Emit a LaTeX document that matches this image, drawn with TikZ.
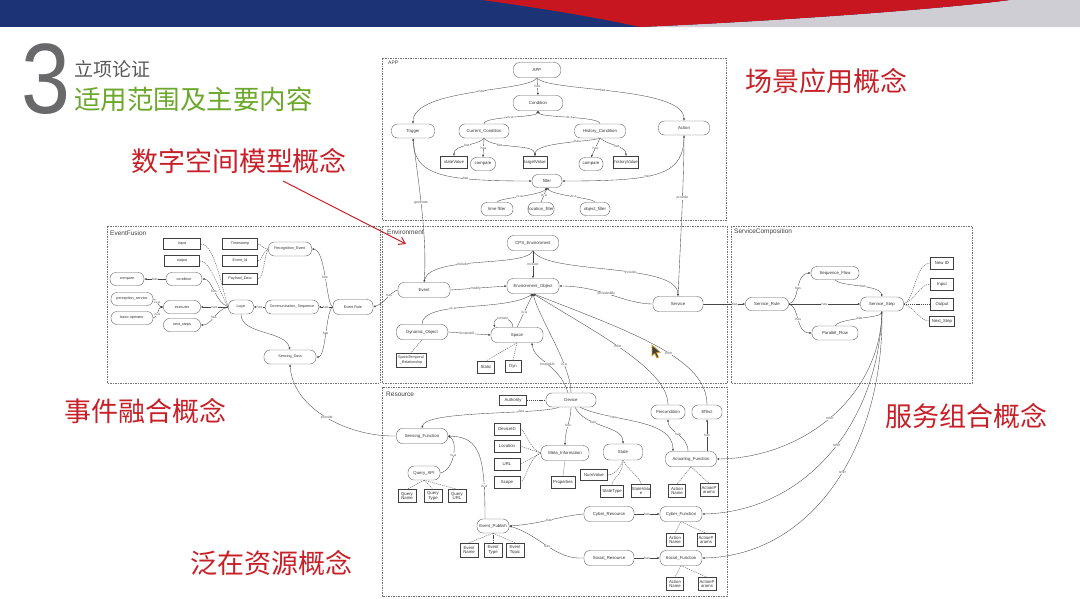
\documentclass[tikz,border=0pt]{standalone}
\usepackage{fontspec}
\setmainfont{Liberation Sans}
\newfontfamily\cjk{Noto Sans CJK SC}
\usetikzlibrary{arrows.meta}
\pgfdeclarelayer{bg}
\pgfdeclarelayer{paper}
\pgfsetlayers{paper,bg,main}
\definecolor{hblue}{RGB}{28,52,118}
\definecolor{hred}{RGB}{200,22,32}
\definecolor{hgrey}{RGB}{206,206,212}
\definecolor{tred}{RGB}{200,32,40}
\definecolor{tgreen}{RGB}{108,168,44}
\definecolor{tgrey}{RGB}{105,105,108}
\definecolor{ndc}{RGB}{95,95,95}
\definecolor{edc}{RGB}{70,70,70}
\definecolor{curs}{RGB}{225,160,40}
\newcommand\nodefont{\fontsize{4.3}{4.8}\selectfont}
\newcommand\nodefontsm{\fontsize{3.7}{4.2}\selectfont}
\newcommand\labfont{\fontsize{3.5}{3.8}\selectfont}
\tikzset{
 rn/.style={draw=ndc, line width=0.4pt, rounded corners=6pt, minimum width=#1, minimum height=14pt, inner sep=0.4pt, font=\nodefont, fill=white, text=black!80},
 rb/.style={draw=black!75, line width=0.5pt, minimum width=#1, minimum height=11.5pt, inner sep=0.4pt, font=\nodefont, align=center, fill=white, text=black!80},
 ed/.style={draw=edc, line width=0.35pt, -{Latex[length=2.4pt,width=2pt]}},
 dsh/.style={draw=edc, line width=0.35pt, dash pattern=on 1.2pt off 0.9pt},
 lab/.style={font=\labfont, fill=white, inner sep=0.2pt, text=black!65},
 frame/.style={draw=black!55, line width=0.45pt, dash pattern=on 1.5pt off 1pt},
 flab/.style={font=\fontsize{6.5}{7}\selectfont, anchor=west, text=black!75, inner sep=0},
 rlab/.style={font=\cjk\fontsize{27}{30}\selectfont, text=tred, inner sep=0},
}
\begin{document}
\begin{tikzpicture}[x=1pt,y=-1pt]
\useasboundingbox (0,0) rectangle (1080,598);
\begin{pgfonlayer}{paper}
\fill[white] (0,0) rectangle (1080,598);
\end{pgfonlayer}
% header band
\fill[hblue] (0,0) rectangle (1080,27);
\fill[hgrey] (640,27) .. controls (800,20) and (950,8) .. (1010,0) -- (1080,0) -- (1080,27) -- cycle;
\fill[hred] (482,0) -- (1010,0) .. controls (950,8) and (800,20) .. (640,27) .. controls (600,18) and (540,8) .. (482,0) -- cycle;
% title
\node[font=\fontsize{100}{100}\selectfont, text=tgrey, inner sep=0, xscale=0.88] (three) at (46,79) {3};
\node[font=\cjk\fontsize{19}{20}\selectfont, text=black!65, anchor=west, inner sep=0] (t1) at (74,69) {立项论证};
\node[font=\cjk\fontsize{26.5}{28}\selectfont, text=tgreen, anchor=west, inner sep=0] (t2) at (74,99) {适用范围及主要内容};
% red labels
\node[rlab] (l1) at (826,81) {场景应用概念};
\node[rlab] (l2) at (239,161) {数字空间模型概念};
\node[rlab] (l3) at (145,411) {事件融合概念};
\node[rlab] (l4) at (966,416) {服务组合概念};
\node[rlab] (l5) at (271,563) {泛在资源概念};

% frame labels
\node[flab, font=\fontsize{5}{6}\selectfont] (fapp) at (388,63) {APP};
\node[flab] (fef) at (110,233) {EventFusion};
\node[flab] (fenv) at (387,232) {Environment};
\node[flab] (fsc) at (734,232) {ServiceComposition};
\node[flab] (fres) at (386,394) {Resource};

% ---------- APP nodes
\node[rn=47,minimum height=15pt] (app) at (537,70) {APP};
\node[rn=49,minimum height=15pt] (cond) at (538,103) {Condition};
\node[rn=43] (trig) at (413,131) {Trigger};
\node[rn=50] (curc) at (484,131) {Current\_Condition};
\node[rn=51] (hisc) at (600,131) {History\_Condition};
\node[rn=51] (act) at (684,128) {Action};
\node[rb=27] (sv) at (454,162) {stateValue};
\node[rn=25,minimum height=13pt] (cmpa) at (483,164) {compare};
\node[rb=24] (tv) at (535,162) {targetValue};
\node[rn=24,minimum height=13pt] (cmpb) at (591,164) {compare};
\node[rb=25] (hv) at (626,162) {historyValue};
\node[rn=30,minimum height=13pt] (filt) at (547,181) {filter};
\node[rn=32,minimum height=13pt] (tf) at (497,209) {time filter};
\node[rn=26,minimum height=13pt] (lf) at (541,209) {location\_filter};
\node[rn=30,minimum height=13pt] (objf) at (595,209) {object\_filter};

% ---------- Environment nodes
\node[rn=51,minimum height=15pt] (cps) at (533,243) {CPS\_Environment};
\node[rn=52,minimum height=15pt] (eo) at (533,286) {Environment\_Object};
\node[rn=52,minimum height=15pt] (ev) at (424,290) {Event};
\node[rn=50,minimum height=15pt] (srv) at (678,304) {Service};
\node[rn=51,minimum height=15pt] (dyn) at (422,332) {Dynamic\_Object};
\node[rn=52,minimum height=15pt] (sp) at (517,335) {Space};
\node[rb=30,minimum height=14pt,font=\nodefontsm] (str) at (411,360) {SpatioTemporal\\\_Relationship};
\node[rb=17] (st) at (486,367) {Static};
\node[rb=16] (dy) at (513,366) {Dyn};

% ---------- EventFusion nodes
\node[rb=37,minimum height=11pt,font=\nodefontsm] (inp) at (182,244) {Input};
\node[rb=35,minimum height=11pt,font=\nodefontsm] (outp) at (182,261) {output};
\node[rn=36,minimum height=13pt,font=\nodefontsm] (cnd) at (184,279) {condition};
\node[rn=34,minimum height=13pt,font=\nodefontsm] (cmpc) at (127,279) {compare};
\node[rn=42,minimum height=13pt,font=\nodefontsm] (ps) at (132,299) {perception\_service};
\node[rn=42,minimum height=13pt,font=\nodefontsm] (bo) at (132,318) {basic operator};
\node[rn=37,minimum height=13pt,font=\nodefontsm] (exe) at (182,307) {executor};
\node[rn=37,minimum height=13pt,font=\nodefontsm] (ns) at (182,325) {next\_steps};
\node[rn=25,minimum height=14pt,font=\nodefontsm] (logic) at (241,307) {Logic};
\node[rn=53,minimum height=14pt,font=\nodefontsm] (cs) at (292,307) {Communication\_Sequence};
\node[rn=40,minimum height=15pt,font=\nodefontsm] (er) at (353,307) {Event Rule};
\node[rb=35,minimum height=11pt,font=\nodefontsm] (ts) at (240,244) {Timestamp};
\node[rb=35,minimum height=11pt,font=\nodefontsm] (eid) at (240,261) {Event\_Id};
\node[rb=35,minimum height=11pt,font=\nodefontsm] (pd) at (240,279) {Payload\_Data};
\node[rn=43,minimum height=14pt,font=\nodefontsm] (re) at (290,249) {Recognition\_Event};
\node[rn=52,minimum height=14pt,font=\nodefontsm] (sd) at (290,357) {Sensing\_Data};

% ---------- ServiceComposition nodes
\node[rn=43,minimum height=13pt] (sr) at (767,304) {Service\_Rule};
\node[rn=48,minimum height=13pt] (sqf) at (835,273) {Sequence\_Flow};
\node[rn=46,minimum height=14pt] (pf) at (835,333) {Parallel\_Flow};
\node[rn=43,minimum height=14pt] (ss) at (882,304) {Service\_Step};
\node[rb=23] (nid) at (942,263) {New ID};
\node[rb=23] (sin) at (942,284) {Input};
\node[rb=23] (sout) at (942,304) {Output};
\node[rb=25,minimum height=10.5pt] (nxt) at (942,321) {Next\_Step};

% ---------- Resource nodes
\node[rb=27,minimum height=10pt] (auth) at (513,400) {Authority};
\node[rn=50,minimum height=14pt] (dev) at (571,400) {Device};
\node[rn=51,minimum height=15pt] (sf) at (422,436) {Sensing\_Function};
\node[rb=26] (did) at (507,429) {DeviceID};
\node[rb=26] (loc) at (507,446) {Location};
\node[rb=26] (url) at (507,464) {URL};
\node[rb=26] (scp) at (507,482) {Scope};
\node[rn=48,minimum height=15pt] (mi) at (565,453) {Meta\_Information};
\node[rb=24] (prop) at (563,482) {Properties};
\node[rn=32,minimum height=14pt] (qa) at (424,473) {Query\_API};
\node[rb=18,minimum height=13pt] (qn) at (407,496) {Query\\Name};
\node[rb=18,minimum height=13pt] (qt) at (433,496) {Query\\Type};
\node[rb=18,minimum height=13pt] (qu) at (457,496) {Query\\URL};
\node[rn=32,minimum height=14pt] (ep) at (493,526) {Event\_Publish};
\node[rb=18,minimum height=14pt] (en) at (469,550) {Event\\Name};
\node[rb=18,minimum height=14pt] (et) at (493,550) {Event\\Type};
\node[rb=18,minimum height=14pt] (etp) at (515,550) {Event\\Topic};
\node[rn=39,minimum height=16pt] (state) at (623,452) {State};
\node[rn=34,minimum height=14pt] (pre) at (668,412) {Precondition};
\node[rn=30,minimum height=14pt] (eff) at (707,412) {Effect};
\node[rn=51,minimum height=15pt] (af) at (691,459) {Actuating\_Function};
\node[rb=27,minimum height=11pt] (nv) at (594,475) {NumValue};
\node[rb=23] (stt) at (612,491) {StateType};
\node[rb=15,minimum height=13pt] (stv) at (641,491) {StateValu\\e};
\node[rb=17,minimum height=13pt] (ana) at (677,491) {Action\\Name};
\node[rb=18,minimum height=13pt] (apa) at (709,490) {ActionP\\arams};
\node[rn=50,minimum height=15pt] (cr) at (609,514) {Cyber\_Resource};
\node[rn=42,minimum height=15pt] (cf) at (681,514) {Cyber\_Function};
\node[rb=17,minimum height=13pt] (anb) at (675,540) {Action\\Name};
\node[rb=18,minimum height=13pt] (apb) at (706,540) {ActionP\\arams};
\node[rn=50,minimum height=15pt] (sor) at (609,558) {Social\_Resource};
\node[rn=42,minimum height=15pt] (sfn) at (681,558) {Social\_Function};
\node[rb=17,minimum height=13pt] (anc) at (675,584) {Action\\Name};
\node[rb=18,minimum height=13pt] (apc) at (707,584) {ActionP\\arams};

\begin{pgfonlayer}{bg}
% frames
\draw[frame] (382,58) rectangle (726,220);
\draw[frame] (107,226) rectangle (380,383);
\draw[frame] (382,226) rectangle (727,383);
\draw[frame] (731,226) rectangle (972,383);
\draw[frame] (382,387) rectangle (727,596);

% ---------- APP edges
\draw[ed] (app.south) -- (cond.north) node[lab,pos=.5]{has};
\draw[ed] (app.south) .. controls (530,92) and (413,88) .. (trig.north) node[lab,pos=.45]{has};
\draw[ed] (app.south) .. controls (545,92) and (684,86) .. (act.north) node[lab,pos=.45]{has};
\draw[ed] (curc.north) .. controls (484,116) and (536,118) .. (cond.south) node[lab,pos=.5]{is-a};
\draw[ed] (hisc.north) .. controls (600,116) and (540,118) .. (cond.south) node[lab,pos=.5]{is-a};
\draw[ed] (curc.south) .. controls (478,146) and (454,144) .. (sv.north) node[lab,pos=.5]{has};
\draw[ed] (curc.south) -- (cmpa.north) node[lab,pos=.5]{has};
\draw[ed] (curc.south) .. controls (495,150) and (535,143) .. (tv.north) node[lab,pos=.3]{has};
\draw[ed] (hisc.south) .. controls (590,142) and (535,142) .. (tv.north) node[lab,pos=.35]{has};
\draw[ed] (hisc.south) -- (cmpb.north) node[lab,pos=.5]{has};
\draw[ed] (hisc.south) .. controls (610,146) and (626,146) .. (hv.north) node[lab,pos=.5]{has};
\draw[ed] (trig.south) .. controls (413,175) and (440,181) .. (filt.west) node[lab,pos=.7]{has};
\draw[ed] (act.south) .. controls (684,175) and (660,181) .. (filt.east) node[lab,pos=.6]{has};
\draw[ed] (tf.north) .. controls (497,198) and (540,196) .. (filt.south) node[lab,pos=.5]{is-a};
\draw[ed] (lf.north) -- (filt.south) node[lab,pos=.5]{is-a};
\draw[ed] (objf.north) .. controls (595,198) and (554,196) .. (filt.south) node[lab,pos=.5]{is-a};
\draw[ed] (ev.north) .. controls (428,240) and (418,180) .. (trig.south) node[lab,pos=.55]{generate};
\draw[ed] (srv.north) .. controls (680,250) and (684,180) .. (act.south) node[lab,pos=.6]{provide};

% ---------- Environment edges
\draw[ed] (cps.south) -- (eo.north) node[lab,pos=.5]{include};
\draw[ed] (cps.south) .. controls (525,268) and (430,255) .. (ev.north) node[lab,pos=.6]{include};
\draw[ed] (cps.south) .. controls (545,275) and (678,262) .. (srv.north) node[lab,pos=.6]{include};
\draw[ed] (ev.east) -- (eo.west) node[lab,pos=.45]{modify};
\draw[ed] (srv.west) .. controls (625,304) and (600,286) .. (eo.east) node[lab,pos=.55]{providedBy};
\draw[ed] (dyn.north) .. controls (422,300) and (505,312) .. (eo.south) node[lab,pos=.4]{is-a};
\draw[ed] (sp.north) -- (eo.south) node[lab,pos=.45]{is-a};
\draw[ed] ([xshift=-4pt]sp.north) .. controls ([xshift=-4pt,yshift=12pt]sp.north) and ([xshift=-26pt,yshift=12pt]sp.north) .. ([xshift=-22pt]sp.north) node[lab,pos=.5]{contain};
\draw[ed] (dyn.east) -- (sp.west) node[lab,pos=.45]{locatedAt};
\draw[dsh] (sp.south) -- (st.north);
\draw[dsh] (sp.south) -- (dy.north);
\draw[dsh] (dyn.south) -- (str.north);
\draw[ed] (dev.north) .. controls (571,365) and (540,320) .. (eo.south) node[lab,pos=.3]{is-a};
\draw[ed] ([xshift=-3pt]dev.north) .. controls (560,365) and (533,360) .. ([xshift=15pt]sp.south) node[lab,pos=.5]{locatedAt};
\draw[ed] (pre.north) .. controls (668,370) and (600,335) .. (eo.south) node[lab,pos=.55]{refer};
\draw[ed] (eff.north) .. controls (707,360) and (640,335) .. (eo.south) node[lab,pos=.45]{refer};
\draw[ed] (ev.west) .. controls (390,292) and (385,303) .. (er.east) node[lab,pos=.4]{has};
\draw[ed] (srv.east) -- (sr.west) node[lab,pos=.75]{has};

% ---------- EventFusion edges
\draw[ed] (er.west) .. controls (326,305) and (326,250) .. (re.east) node[lab,pos=.5]{has};
\draw[ed] (er.west) .. controls (326,309) and (326,357) .. (sd.east) node[lab,pos=.5]{has};
\draw[ed] (er.west) -- (cs.east) node[lab,pos=.5]{has};
\draw[ed] (cs.west) -- (logic.east) node[lab,pos=.5]{has};
\draw[ed] (logic.west) -- (exe.east) node[lab,pos=.5]{has};
\draw[ed] (logic.west) .. controls (215,310) and (212,325) .. (ns.east) node[lab,pos=.5]{has};
\draw[ed] (logic.west) .. controls (215,302) and (212,279) .. (cnd.east) node[lab,pos=.5]{has};
\draw[dsh] (inp.east) .. controls (215,244) and (222,290) .. (logic.west);
\draw[dsh] (outp.east) .. controls (212,261) and (220,295) .. (logic.west);
\draw[ed] (cnd.west) -- (cmpc.east) node[lab,pos=.5]{has};
\draw[ed] (ps.east) .. controls (158,299) and (158,307) .. (exe.west) node[lab,pos=.4]{is-a};
\draw[ed] (bo.east) .. controls (158,318) and (158,307) .. (exe.west) node[lab,pos=.4]{is-a};
\draw[ed] (logic.south) .. controls (241,335) and (285,330) .. (sd.north);
\draw[dsh] (re.west) .. controls (262,249) and (262,244) .. (ts.east);
\draw[dsh] (re.west) .. controls (262,252) and (262,261) .. (eid.east);
\draw[dsh] (re.west) .. controls (264,255) and (264,279) .. (pd.east);
\draw[ed] (sf.west) .. controls (350,437) and (293,410) .. (sd.south) node[lab,pos=.5]{provide};

% ---------- ServiceComposition edges
\draw[ed] (sr.east) .. controls (800,302) and (795,273) .. (sqf.west) node[lab,pos=.5]{has};
\draw[ed] (sr.east) .. controls (800,306) and (795,333) .. (pf.west) node[lab,pos=.5]{has};
\draw[ed] (sr.east) -- (ss.west) node[lab,pos=.5]{has};
\draw[ed] (sqf.south) .. controls (840,287) and (880,284) .. (ss.north) node[lab,pos=.55]{has};
\draw[ed] (pf.north) .. controls (840,318) and (880,318) .. (ss.south) node[lab,pos=.5]{has};
\draw[dsh] (ss.east) .. controls (915,300) and (915,263) .. (nid.west);
\draw[dsh] (ss.east) .. controls (915,300) and (920,284) .. (sin.west);
\draw[dsh] (ss.east) -- (sout.west);
\draw[dsh] (ss.east) .. controls (915,308) and (920,321) .. (nxt.west);
\draw[ed] (ss.south) .. controls (880,400) and (800,458) .. (af.east) node[lab,pos=.5]{refer};
\draw[ed] (ss.south) .. controls (878,430) and (800,512) .. (cf.east) node[lab,pos=.45]{refer};
\draw[ed] (ss.south) .. controls (884,450) and (810,556) .. (sfn.east) node[lab,pos=.45]{refer};

% ---------- Resource edges
\draw[dsh] (auth.east) -- (dev.west);
\draw[ed] ([xshift=-12pt]dev.south) .. controls (540,415) and (425,410) .. (sf.north) node[lab,pos=.3]{has};
\draw[ed] (dev.south) .. controls (571,420) and (565,430) .. (mi.north) node[lab,pos=.5]{has};
\draw[ed] ([xshift=4pt]dev.south) .. controls (585,428) and (623,425) .. (state.north) node[lab,pos=.35]{has};
\draw[ed] ([xshift=9pt]dev.south) .. controls (610,422) and (673,418) .. ([xshift=-18pt]af.north) node[lab,pos=.3]{has};
\draw[dsh] (mi.west) .. controls (530,450) and (525,429) .. (did.east);
\draw[dsh] (mi.west) -- (loc.east);
\draw[dsh] (mi.west) -- (url.east);
\draw[dsh] (mi.west) .. controls (530,456) and (525,482) .. (scp.east);
\draw[draw=black!45, line width=0.35pt] (mi.south) -- (prop.north);
\draw[dsh] (state.south) .. controls (620,468) and (615,475) .. (nv.east);
\draw[dsh] (state.south) .. controls (623,475) and (612,478) .. (stt.north);
\draw[dsh] (state.south) .. controls (628,470) and (641,478) .. (stv.north);
\draw[ed] ([xshift=-3pt]af.north) .. controls (688,435) and (668,432) .. (pre.south) node[lab,pos=.5]{has};
\draw[ed] ([xshift=16pt]af.north) -- (eff.south) node[lab,pos=.5]{has};
\draw[dsh] (af.south) -- (ana.north);
\draw[dsh] (af.south) -- (apa.north);
\draw[ed] (qa.east) .. controls (455,470) and (458,440) .. (sf.east) node[lab,pos=.5]{is-a};
\draw[ed] ([xshift=-8pt]ep.north) .. controls (485,455) and (480,437) .. (sf.east) node[lab,pos=.2]{is-a};
\draw[dsh] (qa.south) -- (qn.north);
\draw[dsh] (qa.south) -- (qt.north);
\draw[dsh] (qa.south) -- (qu.north);
\draw[dsh] (ep.south) -- (en.north);
\draw[dsh] (ep.south) -- (et.north);
\draw[dsh] (ep.south) -- (etp.north);
\draw[ed] (cr.east) -- (cf.west) node[lab,pos=.5]{has};
\draw[ed] (sor.east) -- (sfn.west) node[lab,pos=.5]{has};
\draw[ed] (cr.west) .. controls (560,516) and (540,524) .. (ep.east) node[lab,pos=.5]{has};
\draw[ed] (sor.west) .. controls (555,560) and (540,535) .. (ep.east) node[lab,pos=.5]{has};
\draw[dsh] (cf.south) -- (anb.north);
\draw[dsh] (cf.south) -- (apb.north);
\draw[dsh] (sfn.south) -- (anc.north);
\draw[dsh] (sfn.south) -- (apc.north);
\end{pgfonlayer}

% red pointer arrow
\coordinate (rs) at (283,181);
\coordinate (rt) at (406,244);
\draw[tred, line width=1pt, -{Straight Barb[length=6pt,width=8pt]}] (rs) -- (rt);

% mouse cursor
\filldraw[fill=black!75, draw=curs, line width=0.6pt] (652,345) -- (652,356) -- (654.8,353.4) -- (656.8,358) -- (658.6,357.2) -- (656.6,352.6) -- (660.3,352.4) -- cycle;
\end{tikzpicture}
\end{document}
